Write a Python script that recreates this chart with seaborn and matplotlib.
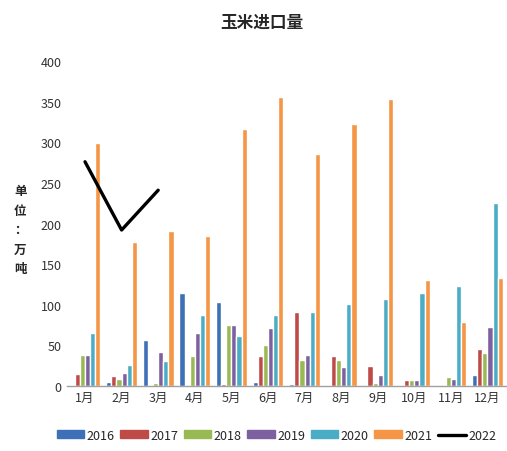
# 玉米进口量：2016-2021 逐月柱状图 + 2022 折线
import seaborn as sns
import pandas as pd
import matplotlib.pyplot as plt
from matplotlib.patches import Patch
from matplotlib.lines import Line2D

months = ["1月", "2月", "3月", "4月", "5月", "6月", "7月", "8月", "9月", "10月", "11月", "12月"]
years = ["2016", "2017", "2018", "2019", "2020", "2021"]
v2016 = [0, 5, 57, 115, 103, 5, 2, 0, 1, 0, 1, 13]
v2017 = [15, 12, 0, 0, 2, 37, 91, 37, 25, 7, 1, 45]
v2018 = [38, 9, 4, 37, 75, 51, 32, 32, 4, 7, 11, 41]
v2019 = [38, 16, 42, 65, 75, 71, 38, 23, 13, 8, 9, 73]
v2020 = [65, 26, 31, 88, 62, 87, 91, 101, 107, 114, 123, 225]
v2021 = [299, 177, 191, 185, 316, 356, 285, 322, 353, 130, 79, 133]
months2022 = ["1月", "2月", "3月"]
v2022 = [276, 192, 241]

colors = ["#3E70B8", "#BE4B48", "#98B954", "#7D60A0", "#4AACC5", "#F59646"]

series = [v2016, v2017, v2018, v2019, v2020, v2021]
rows = []
for y, vals in zip(years, series):
    for m, v in zip(months, vals):
        rows.append({"月份": m, "年份": y, "值": v})
df = pd.DataFrame(rows)
df22 = pd.DataFrame({"月份": months2022, "值": v2022})

sns.set_style("white")
plt.rcParams['font.family'] = ['Noto Sans CJK SC', 'DejaVu Sans']

fig = plt.figure(figsize=(5.07, 4.52), dpi=100)
ax = fig.add_axes([0.1316, 0.1438, 0.866, 0.719])

sns.barplot(data=df, x="月份", y="值", hue="年份", order=months, hue_order=years,
            palette=colors, saturation=1, width=0.84, legend=False, ax=ax)
sns.pointplot(data=df22, x="月份", y="值", order=months, color="black",
              markers="", linestyles="-", ax=ax)
for l in ax.lines:
    l.set_linewidth(2.4)

ax.set_xlim(-0.5, 11.5)
ax.set_ylim(0, 400)
ax.set_yticks(range(0, 401, 50))
ax.set_xlabel("")
ax.set_ylabel("")
ax.tick_params(axis="both", labelsize=9, colors="#333333", length=0)
for s in ["top", "right", "left"]:
    ax.spines[s].set_visible(False)
ax.spines["bottom"].set_color("#A0A0A0")
ax.spines["bottom"].set_linewidth(1)

fig.text(0.517, 0.951, "玉米进口量", ha="center", va="center", fontsize=12, fontweight="bold")
fig.text(0.04, 0.49, "单\n位\n：\n万\n吨", ha="center", va="center", fontsize=9,
         fontweight="bold", linespacing=1.65)

handles = [Patch(color=c, label=y) for c, y in zip(colors, years)]
handles.append(Line2D([0], [0], color="black", lw=2.4, label="2022"))
fig.legend(handles=handles, loc="center", bbox_to_anchor=(0.545, 0.035), ncol=7,
           frameon=False, fontsize=9, handlelength=2.2, handleheight=0.55,
           columnspacing=0.45, handletextpad=0.2)

plt.savefig("out.png", dpi=100)
